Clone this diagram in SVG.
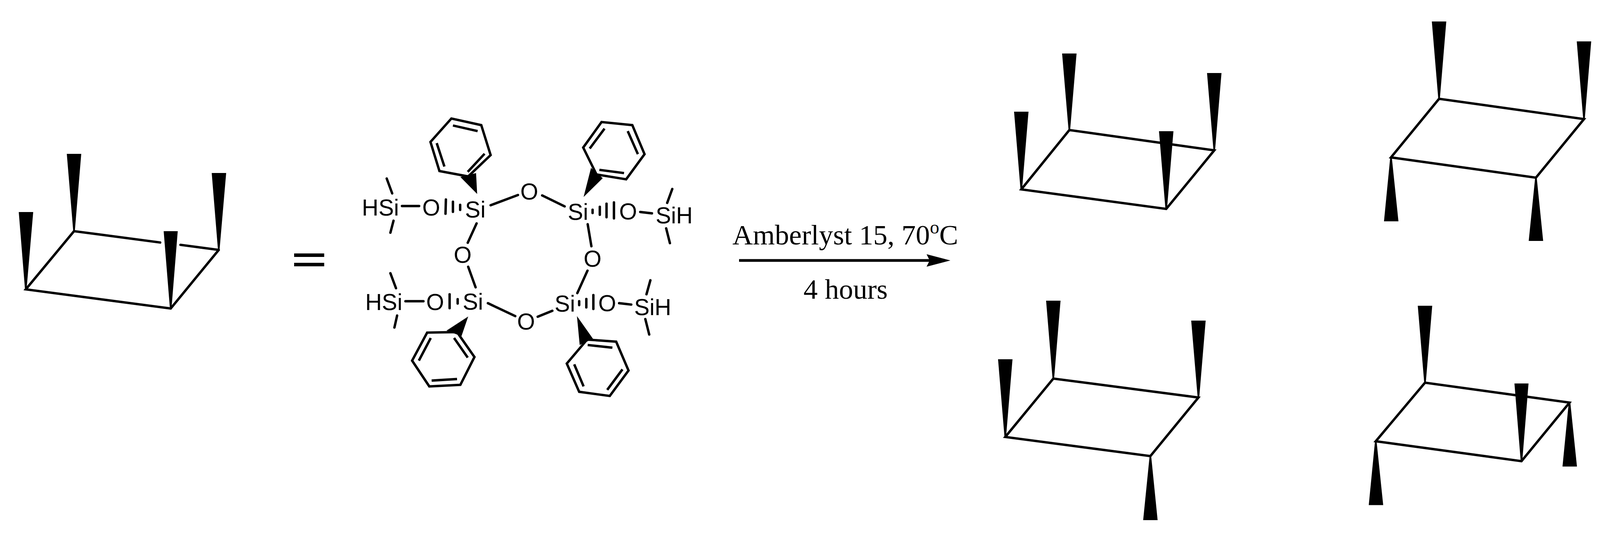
<svg xmlns="http://www.w3.org/2000/svg" width="4119" height="1388" viewBox="0 0 4119 1388">
<style>
.b{stroke:#000;stroke-width:6.2;fill:none;stroke-linecap:butt;stroke-linejoin:miter}
.r{stroke:#000;stroke-width:6.2;fill:none;stroke-linecap:round}
.w{fill:#000;stroke:none}
.a{font-family:"Liberation Sans",Arial,sans-serif;font-size:59px;fill:#000}
.t{font-family:"Liberation Serif","Times New Roman",serif;font-size:72.5px;fill:#000}
</style>
<rect width="4119" height="1388" fill="#fff"/>
<g id="chair-left">
<path class="b" d="M189.5 592L66 741L437 790L560 640"/>
<path class="r" d="M189.5 592L410 621M462 627L560 640"/>
<polygon class="w" points="48,543 85,543 68,741 64,741"/>
<polygon class="w" points="171,394 208,394 191.5,592 187.5,592"/>
<polygon class="w" points="542,443 579,443 562,640 558,640"/>
<polygon class="w" points="419,592 455,592 439,790 435,790"/>
</g>
<g id="equals"><rect x="753" y="649" width="77" height="9"/><rect x="753" y="673" width="77" height="9"/></g>
<g id="siloxane">
<g transform="translate(0,2.175) scale(1,.9913)">
<path class="b" d="M1155.5 304L1232 321L1256 398.5L1198.6 453.6L1125 439.7L1102 364.4Z"/>
<path class="b" d="M1159.5 322L1222.7 336.6M1118 367.5L1137.7 428M1240.5 395L1197.4 441.8"/>
<path class="b" d="M1540 313L1618.7 321L1650 396L1603 461L1527 448.5L1493 379Z"/>
<path class="b" d="M1547.6 330L1509.7 381.5M1607 336.6L1633 396M1534.4 436.6L1597.5 445"/>
<path class="b" d="M1093.5 857L1170 855.7L1214.6 920L1178.5 992L1099 996L1055 929.4Z"/>
<path class="b" d="M1102.7 871L1072.3 929.4M1162.4 871L1197.4 921.7M1170 977L1105 981"/>
<path class="b" d="M1503 875L1577.4 880.5L1609 955L1561 1020.7L1482.7 1010L1451 937Z"/>
<path class="b" d="M1504.5 889L1567.7 896M1593.5 952L1554.5 1005M1470 939L1494 996"/>
<polygon class="w" points="1221.5,499 1178.5,455 1218.7,445"/>
<polygon class="w" points="1494,506.7 1513,431.5 1543,458"/>
<polygon class="w" points="1198.6,815.5 1143,852 1181.4,866"/>
<polygon class="w" points="1477,814.5 1484,889 1518,873"/>
<path class="r" d="M1256 528L1326 501.6M1388 502.6L1445.4 531M1504.5 577L1514 634M1504 697L1478 755M1414 800.6L1376.5 816M1319 814.5L1249 781M1217.5 740L1198.6 687M1197.4 625L1220 575"/>
<path class="r" d="M1029 530L1073 530M990 459L1004 497.4M1007.4 568L999.4 599M1141.5 513L1140.5 550M1159.5 519L1159.5 545M1178 527L1178 540"/>
<path class="r" d="M1517 539.7L1517 548M1535.5 532L1535.5 552.6M1552.7 524L1552.7 559M1571.7 520.6L1571.7 562M1639 545.4L1669 549M1721 486L1708 522M1705.4 587.7L1715 626"/>
<path class="r" d="M1038 776L1084 776M999.4 703.6L1013.7 742.3M1016.6 813L1009.7 844M1151 758L1151 794M1171.6 770.7L1171.6 782"/>
<path class="r" d="M1482.7 776L1482.7 786M1501 770L1501 792M1519 760L1519 796M1585 781L1616 784.6M1665 721.7L1655 758M1652 822L1662 862"/>
</g>
<text class="a" x="926.3" y="552">HSi</text>
<text class="a" x="1081" y="552">O</text>
<text class="a" x="1190.6" y="557">Si</text>
<text class="a" x="1332" y="510.7">O</text>
<text class="a" x="1453.4" y="562.8">Si</text>
<text class="a" x="1585" y="561.8">O</text>
<text class="a" x="1678.4" y="572.2">SiH</text>
<text class="a" x="1494" y="683.2">O</text>
<text class="a" x="1161.5" y="673">O</text>
<text class="a" x="1184.4" y="792.5">Si</text>
<text class="a" x="935" y="794.3">HSi</text>
<text class="a" x="1091" y="794">O</text>
<text class="a" x="1323.7" y="843.8">O</text>
<text class="a" x="1419.8" y="797.8">Si</text>
<text class="a" x="1531.5" y="796.8">O</text>
<text class="a" x="1623.4" y="807">SiH</text>
</g>
<g id="connectors">
<line x1="1892" y1="667" x2="2385" y2="667" stroke="#000" stroke-width="7"/>
<polygon class="w" points="2433,667 2372,683 2380,667 2372,651"/>
</g>
<g id="conditions">
<text class="t" x="1875" y="626">Amberlyst 15, 70<tspan font-size="48" dy="-28">o</tspan><tspan dy="28">C</tspan></text>
<text class="t" x="2057" y="765">4 hours</text>
</g>
<g id="product-1">
<path class="b" d="M2737.5 333L3108.5 385L2985.5 535L2614.5 485Z"/>
<polygon class="w" points="2719,137 2756,137 2739.5,333 2735.5,333"/>
<polygon class="w" points="3090,187 3127,187 3110.5,385 3106.5,385"/>
<polygon class="w" points="2967,336 3004,336 2987.5,535 2983.5,535"/>
<polygon class="w" points="2596,286 2633,286 2616.5,485 2612.5,485"/>
</g>
<g id="product-2">
<path class="b" d="M3684 253L4055 305L3932 455L3561 403Z"/>
<polygon class="w" points="3665.5,55 3702.5,55 3686,253 3682,253"/>
<polygon class="w" points="4036.5,106 4073.5,106 4057,305 4053,305"/>
<polygon class="w" points="3930,455 3934,455 3950.5,617 3913.5,617"/>
<polygon class="w" points="3559,403 3563,403 3580,566.7 3543,566.7"/>
</g>
<g id="product-3">
<path class="b" d="M2696.5 969.5L3068 1018L2945 1168L2573.5 1119Z"/>
<polygon class="w" points="2678,770 2715,770 2698.5,969.5 2694.5,969.5"/>
<polygon class="w" points="3049.5,821 3086.5,821 3070,1018 3066,1018"/>
<polygon class="w" points="2943,1168 2947,1168 2963.5,1332 2926.5,1332"/>
<polygon class="w" points="2555,920 2592,920 2575.5,1119 2571.5,1119"/>
</g>
<g id="product-4">
<path class="b" d="M3648 980L4018 1031L3895 1181L3522 1130Z"/>
<polygon class="w" points="3629.5,783 3666.5,783 3650,980 3646,980"/>
<polygon class="w" points="4016,1031 4020,1031 4037,1194.7 4000,1194.7"/>
<polygon class="w" points="3877,982 3913,982 3897,1181 3893,1181"/>
<polygon class="w" points="3520,1130 3524,1130 3541,1293.5 3504,1293.5"/>
</g>
</svg>
